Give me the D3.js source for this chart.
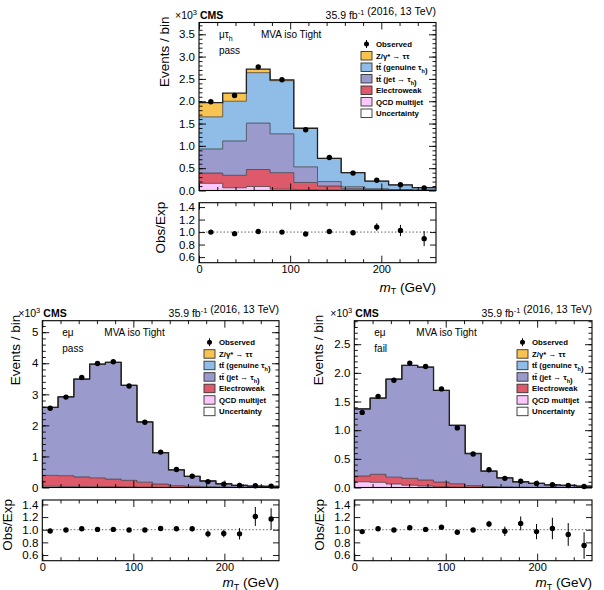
<!DOCTYPE html>
<html>
<head>
<meta charset="utf-8">
<script src="https://cdn.jsdelivr.net/npm/d3@7"></script>
<style>
  body { margin: 0; background: #fff; }
  svg { font-family: "Liberation Sans", Arial, sans-serif; }
</style>
</head>
<body>
<svg id="chart" width="604" height="590"></svg>
<script>
"use strict";

// bin edges in mT (GeV)
const mtEdges = [0, 26, 52, 78, 104, 130, 156, 182, 208, 234, 260];
const emEdges = [0, 17.33, 34.67, 52, 69.33, 86.67, 104, 121.33, 138.67, 156, 173.33, 190.67, 208, 225.33, 242.67, 260];

// mu tau_h pass, events x 10^3 per process
const mtQcd   = [0.16, 0.06, 0.09, 0.03, 0.01, 0.005, 0.003, 0.002, 0.001, 0.001];
const mtEwk   = [0.23, 0.28, 0.38, 0.37, 0.17, 0.095, 0.037, 0.018, 0.01, 0.005];
const mtTtJet = [0.54, 0.77, 1.04, 0.87, 0.35, 0.10, 0.045, 0.02, 0.011, 0.005];
const mtTtGen = [0.72, 0.89, 1.13, 1.19, 0.86, 0.52, 0.315, 0.17, 0.103, 0.054];
const mtZtt   = [0.32, 0.18, 0.08, 0.02, 0.005, 0, 0, 0, 0, 0];
const mtObs   = [1.99, 2.13, 2.77, 2.48, 1.36, 0.74, 0.39, 0.23, 0.13, 0.058];
const mtRatio    = [1.0, 0.975, 1.01, 1.0, 0.97, 1.01, 0.99, 1.08, 1.025, 0.895];
const mtRatioErr = [0.01, 0.01, 0.01, 0.01, 0.015, 0.02, 0.03, 0.06, 0.09, 0.12];

// e mu pass
const epQcd   = [0.04, 0.035, 0.03, 0.025, 0.02, 0.015, 0.01, 0.005, 0.003, 0.002, 0.001, 0, 0, 0, 0];
const epEwk   = [0.35, 0.345, 0.31, 0.285, 0.25, 0.215, 0.16, 0.105, 0.057, 0.038, 0.024, 0.015, 0.01, 0.008, 0.005];
const epTtJet = [2.19, 2.54, 3.15, 3.66, 3.76, 3.06, 1.94, 1.01, 0.51, 0.32, 0.185, 0.105, 0.06, 0.038, 0.034];
const epTtGen = [0, 0, 0, 0, 0, 0, 0, 0, 0, 0, 0, 0, 0, 0, 0];
const epZtt   = [0, 0, 0, 0, 0, 0, 0, 0, 0, 0, 0, 0, 0, 0, 0];
const epObs   = [2.55, 2.91, 3.54, 3.99, 4.05, 3.27, 2.10, 1.14, 0.58, 0.36, 0.19, 0.11, 0.065, 0.055, 0.045];
const epRatio    = [0.98, 0.995, 1.015, 1.005, 1.005, 0.995, 0.995, 1.02, 1.015, 1.015, 0.935, 0.94, 0.935, 1.21, 1.17];
const epRatioErr = [0.01, 0.01, 0.01, 0.01, 0.01, 0.01, 0.015, 0.02, 0.03, 0.04, 0.055, 0.06, 0.09, 0.15, 0.17];

// e mu fail
const efQcd   = [0.10, 0.09, 0.06, 0.04, 0.025, 0.01, 0.005, 0.003, 0.002, 0.001, 0, 0, 0, 0, 0];
const efEwk   = [0.10, 0.14, 0.12, 0.12, 0.105, 0.084, 0.06, 0.03, 0.015, 0.008, 0.005, 0.003, 0.002, 0.001, 0.001];
const efTtJet = [1.17, 1.33, 1.71, 1.97, 1.97, 1.60, 1.02, 0.56, 0.27, 0.16, 0.095, 0.07, 0.045, 0.037, 0.022];
const efTtGen = [0, 0, 0, 0, 0, 0, 0, 0, 0, 0, 0, 0, 0, 0, 0];
const efZtt   = [0, 0, 0, 0, 0, 0, 0, 0, 0, 0, 0, 0, 0, 0, 0];
const efObs   = [1.31, 1.59, 1.87, 2.17, 2.11, 1.72, 1.04, 0.585, 0.31, 0.16, 0.11, 0.07, 0.047, 0.035, 0.017];
const efRatio    = [0.97, 1.015, 0.995, 1.03, 1.005, 1.04, 0.96, 0.995, 1.09, 0.975, 1.10, 0.97, 1.02, 0.925, 0.75];
const efRatioErr = [0.02, 0.015, 0.015, 0.015, 0.015, 0.02, 0.025, 0.03, 0.05, 0.075, 0.11, 0.12, 0.17, 0.18, 0.21];

const procKeys = ["qcd", "ewk", "ttjet", "ttgen", "ztt"];
const procColors = { qcd: "#fcc8fb", ewk: "#de5a6a", ttjet: "#9a9acd", ttgen: "#8fbde7", ztt: "#f9c352" };

const xMajor = [0, 100, 200];
const xMinor = [20, 40, 60, 80, 120, 140, 160, 180, 220, 240];
const ratioTicks = [0.6, 0.8, 1.0, 1.2, 1.4];

const legendRows = [
  { key: "obs", parts: [["Observed"]] },
  { key: "ztt", parts: [["Z/γ* → ττ"]] },
  { key: "ttgen", parts: [["tt\u0304 (genuine τ"], ["h", "sub"], [")"]] },
  { key: "ttjet", parts: [["tt\u0304 (jet → τ"], ["h", "sub"], [")"]] },
  { key: "ewk", parts: [["Electroweak"]] },
  { key: "qcd", parts: [["QCD multijet"]] },
  { key: "unc", parts: [["Uncertainty"]] }
];

const svg = d3.select("#chart");

var writeParts = function(text, parts, subSize) {
  parts.forEach(function(p) {
    if (p[1] === "sub") {
      text.append("tspan").attr("dy", 3).style("font-size", subSize + "px").text(p[0]);
      text.append("tspan").attr("dy", -3).text("");
    } else if (p[1] === "sup") {
      text.append("tspan").attr("dy", -4).style("font-size", subSize + "px").text(p[0]);
      text.append("tspan").attr("dy", 4).text("");
    } else {
      text.append("tspan").text(p[0]);
    }
  });
};

var insideTicks = function(g, axisGen, scale, vals, len, labels, fmt, fs, pad) {
  var ax = axisGen(scale).tickValues(vals).tickSize(-len).tickPadding(pad || 4);
  if (labels) ax.tickFormat(d3.format(fmt)); else ax.tickFormat("");
  g.call(ax);
  g.select(".domain").remove();
  g.selectAll(".tick line").attr("stroke", "#000").attr("stroke-width", 0.9);
  g.selectAll(".tick text").attr("fill", "#000").style("font-size", fs + "px")
    .style("font-family", "'Liberation Sans', Arial, sans-serif");
};

var drawPanel = function(p) {
  const x = d3.scaleLinear().domain([0, 260]).range([p.left, p.right]);
  const y = d3.scaleLinear().domain([0, p.yMax]).range([p.mainBot, p.mainTop]);
  const yr = d3.scaleLinear().domain([0.51, 1.47]).range([p.ratBot, p.ratTop]);
  const g = svg.append("g");

  // stacked processes
  const rows = p.obs.map((o, i) => ({ qcd: p.qcd[i], ewk: p.ewk[i], ttjet: p.ttjet[i], ttgen: p.ttgen[i], ztt: p.ztt[i] }));
  const series = d3.stack().keys(procKeys)(rows);
  const steps = s => {
    const pts = [];
    s.forEach((d, i) => {
      pts.push([p.edges[i], d[0], d[1]]);
      pts.push([p.edges[i + 1], d[0], d[1]]);
    });
    return pts;
  };
  const area = d3.area().x(d => x(d[0])).y0(d => y(d[1])).y1(d => y(d[2]));
  const line = d3.line().x(d => x(d[0])).y(d => y(d[2]));

  series.forEach(s => {
    g.append("path").attr("d", area(steps(s))).attr("fill", procColors[s.key]).attr("stroke", "none");
  });
  series.forEach((s, k) => {
    if (k === series.length - 1) return;
    g.append("path").attr("d", line(steps(s))).attr("fill", "none")
      .attr("stroke", "#333").attr("stroke-opacity", 0.7).attr("stroke-width", 1);
  });
  g.append("path").attr("d", line(steps(series[series.length - 1]))).attr("fill", "none")
    .attr("stroke", "#222").attr("stroke-width", 1.3);

  // observed
  const centers = p.obs.map((o, i) => (p.edges[i] + p.edges[i + 1]) / 2);
  p.obs.forEach((o, i) => {
    const e = o * p.ratioErr[i];
    g.append("line").attr("x1", x(centers[i])).attr("x2", x(centers[i]))
      .attr("y1", y(o - e)).attr("y2", y(o + e)).attr("stroke", "#000").attr("stroke-width", 1);
    g.append("circle").attr("cx", x(centers[i])).attr("cy", y(o)).attr("r", 2.7).attr("fill", "#000");
  });

  // frames and ticks, main pad
  g.append("rect").attr("x", p.left).attr("y", p.mainTop).attr("width", p.right - p.left)
    .attr("height", p.mainBot - p.mainTop).attr("fill", "none").attr("stroke", "#000").attr("stroke-width", 1.1);
  insideTicks(g.append("g").attr("transform", `translate(${p.left},0)`), d3.axisLeft, y, p.yMajor, 7, true, p.yFmt, 11.5);
  insideTicks(g.append("g").attr("transform", `translate(${p.left},0)`), d3.axisLeft, y, p.yMinor, 3.5, false);
  insideTicks(g.append("g").attr("transform", `translate(${p.right},0)`), d3.axisRight, y, p.yMajor, 7, false);
  insideTicks(g.append("g").attr("transform", `translate(${p.right},0)`), d3.axisRight, y, p.yMinor, 3.5, false);
  insideTicks(g.append("g").attr("transform", `translate(0,${p.mainBot})`), d3.axisBottom, x, xMajor, 7, false);
  insideTicks(g.append("g").attr("transform", `translate(0,${p.mainBot})`), d3.axisBottom, x, xMinor, 3.5, false);
  insideTicks(g.append("g").attr("transform", `translate(0,${p.mainTop})`), d3.axisTop, x, xMajor, 7, false);
  insideTicks(g.append("g").attr("transform", `translate(0,${p.mainTop})`), d3.axisTop, x, xMinor, 3.5, false);

  // ratio pad
  g.append("line").attr("x1", p.left).attr("x2", p.right).attr("y1", yr(1)).attr("y2", yr(1))
    .attr("stroke", "#666").attr("stroke-width", 1).attr("stroke-dasharray", "1.5,2");
  p.ratio.forEach((r, i) => {
    const e = p.ratioErr[i];
    g.append("line").attr("x1", x(centers[i])).attr("x2", x(centers[i]))
      .attr("y1", yr(r - e)).attr("y2", yr(r + e)).attr("stroke", "#000").attr("stroke-width", 1);
    g.append("circle").attr("cx", x(centers[i])).attr("cy", yr(r)).attr("r", 2.7).attr("fill", "#000");
  });
  g.append("rect").attr("x", p.left).attr("y", p.ratTop).attr("width", p.right - p.left)
    .attr("height", p.ratBot - p.ratTop).attr("fill", "none").attr("stroke", "#000").attr("stroke-width", 1.1);
  insideTicks(g.append("g").attr("transform", `translate(${p.left},0)`), d3.axisLeft, yr, ratioTicks, 6, true, ".1f", 11.5);
  insideTicks(g.append("g").attr("transform", `translate(${p.right},0)`), d3.axisRight, yr, ratioTicks, 6, false);
  insideTicks(g.append("g").attr("transform", `translate(0,${p.ratBot})`), d3.axisBottom, x, xMajor, 7, true, "d", 11, 2.5);
  insideTicks(g.append("g").attr("transform", `translate(0,${p.ratBot})`), d3.axisBottom, x, xMinor, 3.5, false);
  insideTicks(g.append("g").attr("transform", `translate(0,${p.ratTop})`), d3.axisTop, x, xMajor, 7, false);
  insideTicks(g.append("g").attr("transform", `translate(0,${p.ratTop})`), d3.axisTop, x, xMinor, 3.5, false);

  // headers
  const hx = g.append("text").attr("x", p.left - 24).attr("y", p.mainTop - 4).style("font-size", "10.5px");
  writeParts(hx, [["×10"], ["3", "sup"]], 7.5);
  g.append("text").attr("x", p.left + 1).attr("y", p.mainTop - 4).style("font-size", "10.5px")
    .style("font-weight", "bold").text("CMS");
  const lumi = g.append("text").attr("x", p.right).attr("y", p.mainTop - 4).attr("text-anchor", "end")
    .style("font-size", "10.5px");
  writeParts(lumi, [["35.9 fb"], ["-1", "sup"], [" (2016, 13 TeV)"]], 7.5);

  // axis titles
  g.append("text").attr("transform", `translate(${p.left - p.evOff},${p.mainTop - 6}) rotate(-90)`)
    .attr("text-anchor", "end").style("font-size", "13.5px").text("Events / bin");
  g.append("text").attr("transform", `translate(${p.left - p.obsOff},${p.ratTop - 1}) rotate(-90)`)
    .attr("text-anchor", "end").style("font-size", "13.5px").text("Obs/Exp");
  const xt = g.append("text").attr("x", p.right).attr("y", p.xtY).attr("text-anchor", "end")
    .style("font-size", "13.5px");
  xt.append("tspan").style("font-style", "italic").text("m");
  xt.append("tspan").attr("dy", 2.5).style("font-size", "9px").text("T");
  xt.append("tspan").attr("dy", -2.5).text(" (GeV)");

  // category labels
  const ch = g.append("text").attr("x", p.left + 20).attr("y", p.mainTop + 15.5).style("font-size", "10px");
  writeParts(ch, p.channel, 7);
  g.append("text").attr("x", p.left + 20).attr("y", p.mainTop + 31.5).style("font-size", "10px").text(p.cat);
  g.append("text").attr("x", p.left + 62).attr("y", p.mainTop + 15.5).style("font-size", "10px").text("MVA iso Tight");

  // legend
  const lx = p.right - 75;
  legendRows.forEach((row, i) => {
    const cy = p.mainTop + 21.5 + i * 11.5;
    if (row.key === "obs") {
      g.append("line").attr("x1", lx + 5.5).attr("x2", lx + 5.5).attr("y1", cy - 4).attr("y2", cy + 4)
        .attr("stroke", "#000").attr("stroke-width", 1);
      g.append("circle").attr("cx", lx + 5.5).attr("cy", cy).attr("r", 2.5).attr("fill", "#000");
    } else {
      g.append("rect").attr("x", lx).attr("y", cy - 4).attr("width", 11).attr("height", 8.5)
        .attr("fill", row.key === "unc" ? "#fff" : procColors[row.key])
        .attr("stroke", "#333").attr("stroke-width", 0.9);
    }
    const t = g.append("text").attr("x", lx + 15).attr("y", cy + 3).style("font-size", "7.8px")
      .style("font-weight", "bold");
    writeParts(t, row.parts, 5.5);
  });
};

drawPanel({
  left: 199, right: 436, mainTop: 22.5, mainBot: 190.5, ratTop: 202.7, ratBot: 262.7, xtY: 291.5,
  yMax: 3.764, yMajor: [0, 0.5, 1, 1.5, 2, 2.5, 3, 3.5], yMinor: d3.range(0.1, 3.76, 0.1), yFmt: ".1f",
  evOff: 30, obsOff: 34, channel: [["μτ"], ["h", "sub"]], cat: "pass", edges: mtEdges,
  qcd: mtQcd, ewk: mtEwk, ttjet: mtTtJet, ttgen: mtTtGen, ztt: mtZtt, obs: mtObs,
  ratio: mtRatio, ratioErr: mtRatioErr
});

drawPanel({
  left: 42.3, right: 279, mainTop: 320.7, mainBot: 487.5, ratTop: 500, ratBot: 560.7, xtY: 587,
  yMax: 5.37, yMajor: [0, 1, 2, 3, 4, 5], yMinor: d3.range(0.2, 5.37, 0.2), yFmt: "d",
  evOff: 22, obsOff: 30, channel: [["eμ"]], cat: "pass", edges: emEdges,
  qcd: epQcd, ewk: epEwk, ttjet: epTtJet, ttgen: epTtGen, ztt: epZtt, obs: epObs,
  ratio: epRatio, ratioErr: epRatioErr
});

drawPanel({
  left: 354.3, right: 592, mainTop: 320.7, mainBot: 487.5, ratTop: 500, ratBot: 560.7, xtY: 587,
  yMax: 2.91, yMajor: [0, 0.5, 1, 1.5, 2, 2.5], yMinor: d3.range(0.1, 2.91, 0.1), yFmt: ".1f",
  evOff: 31, obsOff: 30, channel: [["eμ"]], cat: "fail", edges: emEdges,
  qcd: efQcd, ewk: efEwk, ttjet: efTtJet, ttgen: efTtGen, ztt: efZtt, obs: efObs,
  ratio: efRatio, ratioErr: efRatioErr
});
</script>
</body>
</html>
